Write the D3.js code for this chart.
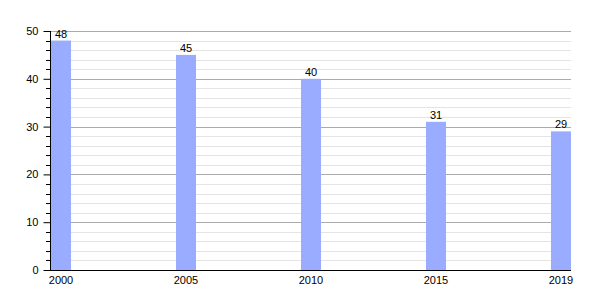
<!DOCTYPE html>
<html>
<head>
<meta charset="utf-8">
<script src="https://cdn.jsdelivr.net/npm/d3@7"></script>
<style>
  body { margin: 0; background: #fff; }
  text { font-family: "Liberation Sans", Arial, sans-serif; }
</style>
</head>
<body>
<svg id="chart"></svg>
<script>
// chart data
const years = ["2000", "2005", "2010", "2015", "2019"];
const values = [48, 45, 40, 31, 29];
const yTicks = [0, 10, 20, 30, 40, 50];

const margin = {top: 31, right: 29, bottom: 30, left: 50};
const width = 600 - margin.left - margin.right;
const height = 300 - margin.top - margin.bottom;
const barWidth = 20;

const svg = d3.select("svg#chart")
    .attr("width", 600)
    .attr("height", 300)
    .append("g")
    .attr("transform", "translate(" + margin.left + "," + margin.top + ")");

const y = d3.scaleLinear()
    .domain([0, 50])
    .range([height, 0]);

const x = d3.scalePoint()
    .domain(years)
    .range([1, width - barWidth]);

// minor grid every 2
svg.append("g")
    .selectAll("line")
    .data(d3.range(2, 50, 2).filter(v => v % 10 !== 0))
    .enter().append("line")
    .attr("x1", 0)
    .attr("x2", width)
    .attr("y1", d => Math.round(y(d)) + 0.5)
    .attr("y2", d => Math.round(y(d)) + 0.5)
    .attr("stroke", "#e4e4e4");

// major grid
svg.append("g")
    .selectAll("line")
    .data(yTicks.filter(v => v > 0))
    .enter().append("line")
    .attr("x1", 0)
    .attr("x2", width)
    .attr("y1", d => Math.round(y(d)) + 0.5)
    .attr("y2", d => Math.round(y(d)) + 0.5)
    .attr("stroke", "#aaaaaa");

// bars
const bar = svg.selectAll("g.bar")
    .data(years.map((yr, i) => ({year: yr, value: values[i]})))
    .enter().append("g")
    .attr("class", "bar");

bar.append("rect")
    .attr("x", d => x(d.year))
    .attr("y", d => y(d.value))
    .attr("width", barWidth)
    .attr("height", d => y(0) - y(d.value))
    .attr("fill", "#99acff");

bar.append("text")
    .text(d => d.value)
    .attr("x", d => x(d.year) + barWidth / 2)
    .attr("y", d => y(d.value) - 3)
    .attr("text-anchor", "middle")
    .attr("font-size", "11px")
    .attr("fill", "#000");

// y axis: major ticks with labels, minor ticks
const yAxis = svg.append("g")
    .attr("transform", "translate(0.5,0)")
    .call(d3.axisLeft(y).tickValues(yTicks).tickSize(7).tickPadding(5));
yAxis.select(".domain").attr("d", "M0," + y(50) + "V" + y(0));
yAxis.selectAll("text").attr("font-size", "11px").attr("font-family", "Liberation Sans, Arial, sans-serif");

svg.append("g")
    .selectAll("line")
    .data(d3.range(2, 50, 2).filter(v => v % 10 !== 0))
    .enter().append("line")
    .attr("x1", -4)
    .attr("x2", 0.5)
    .attr("y1", d => Math.round(y(d)) + 0.5)
    .attr("y2", d => Math.round(y(d)) + 0.5)
    .attr("stroke", "#000");

// x axis baseline and year labels
svg.append("line")
    .attr("x1", 0)
    .attr("x2", width)
    .attr("y1", y(0) + 0.5)
    .attr("y2", y(0) + 0.5)
    .attr("stroke", "#000");

svg.append("g")
    .selectAll("text")
    .data(years)
    .enter().append("text")
    .text(d => d)
    .attr("x", d => x(d) + barWidth / 2)
    .attr("y", height + 14)
    .attr("text-anchor", "middle")
    .attr("font-size", "11px")
    .attr("fill", "#000");
</script>
</body>
</html>
